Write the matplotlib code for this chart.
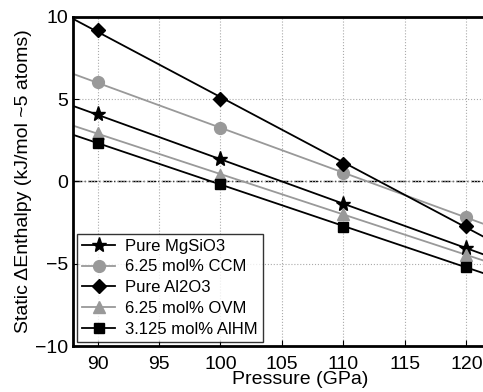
import matplotlib
matplotlib.use('Agg')
import matplotlib.pyplot as plt
import numpy as np

plt.rcParams['font.family'] = ['Liberation Sans', 'DejaVu Sans']

# pressures (GPa)
P = np.array([90, 100, 110, 120])

# static enthalpy differences (kJ/mol ~5 atoms)
mgsio3 = np.array([4.07, 1.34, -1.38, -4.03])
ccm = np.array([6.04, 3.22, 0.49, -2.15])
al2o3 = np.array([9.18, 5.03, 1.09, -2.72])
ovm = np.array([2.95, 0.38, -2.0, -4.44])
alhm = np.array([2.35, -0.18, -2.75, -5.19])

labels = ['Pure MgSiO3', '6.25 mol% CCM', 'Pure Al2O3', '6.25 mol% OVM', '3.125 mol% AlHM']
series = [mgsio3, ccm, al2o3, ovm, alhm]
markers = ['*', 'o', 'D', '^', 's']
colors = ['black', '#999999', 'black', '#999999', 'black']
msizes = [11, 8.5, 7.5, 9, 7]

xmin, xmax = 88, 125

fig = plt.figure(figsize=(4.83, 3.92), dpi=100)
ax = fig.add_axes([0.151, 0.117, 0.942, 0.840])

xfit = np.array([xmin, xmax])
for y, m, c, ms, lab in zip(series, markers, colors, msizes, labels):
    # linear fit through the points, extended across the axes
    k, b = np.polyfit(P, y, 1)
    ax.plot(xfit, k * xfit + b, color=c, lw=1.3, zorder=2)
    ax.plot(P, y, linestyle='none', marker=m, color=c, ms=ms, zorder=3)
    # legend proxy
    ax.plot([], [], color=c, lw=1.3, marker=m, ms=ms, label=lab)

ax.axhline(0, color='black', lw=1.0, ls='-.', zorder=1)

ax.set_xlim(xmin, xmax)
ax.set_ylim(-10, 10)
ax.set_xticks(np.arange(90, 121, 5))
ax.set_yticks([-10, -5, 0, 5, 10])
ax.grid(True, color='#aaaaaa', ls=':', lw=0.8)
ax.tick_params(direction='in', length=4, labelsize=14)
ax.tick_params(axis='x', pad=7)
for s in ax.spines.values():
    s.set_linewidth(2)

ax.set_xlabel('Pressure (GPa)', fontsize=14, labelpad=-1)
ax.set_ylabel('Static \u0394Enthalpy (kJ/mol ~5 atoms)', fontsize=14, labelpad=2)

leg = ax.legend(loc='lower left', fontsize=12, frameon=True, fancybox=False,
                edgecolor='black', handlelength=2.0, handletextpad=0.6,
                labelspacing=0.35, borderpad=0.3, borderaxespad=0.25)
leg.get_frame().set_linewidth(1.0)

fig.savefig('out.png', dpi=100)
